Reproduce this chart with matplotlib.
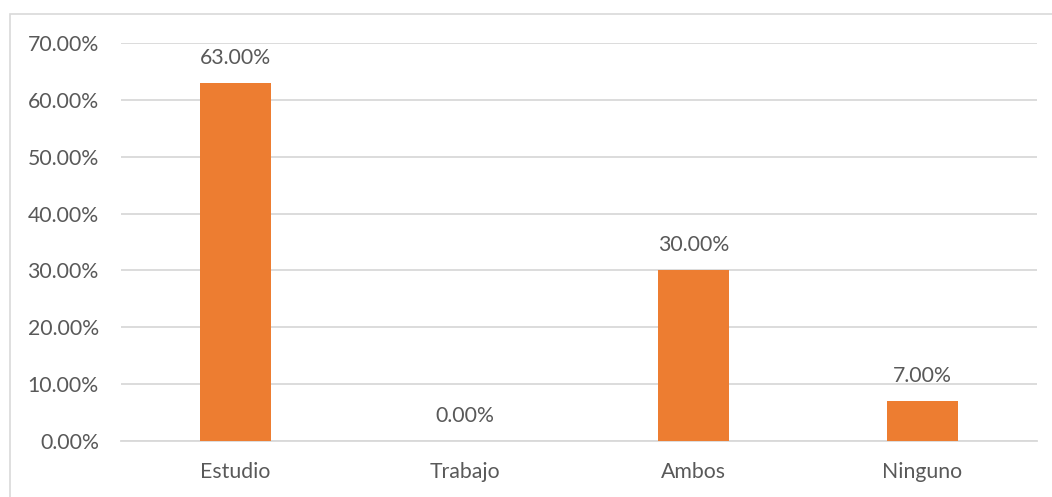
import matplotlib.pyplot as plt
from matplotlib.patches import Rectangle
import numpy as np

categories = ['Estudio', 'Trabajo', 'Ambos', 'Ninguno']
values = [63.0, 0.0, 30.0, 7.0]
yticks = [0, 10, 20, 30, 40, 50, 60, 70]

plt.rcParams['font.family'] = ['Lato', 'DejaVu Sans']
txt = '#595959'
grid = '#d9d9d9'
fs = 15.3

fig = plt.figure(figsize=(10.52, 4.97), dpi=100)
ax = fig.add_axes([121/1052, 1-441/497, (1037-121)/1052, (441-43)/497])

# outer chart border
fig.patches.append(Rectangle((10/1052, -0.05), 1.1, 1-14/497+0.05, transform=fig.transFigure,
                             fill=False, edgecolor=grid, linewidth=1.2))

x = np.arange(len(categories))
ax.bar(x, values, width=0.313, color='#ED7D31', zorder=3)
for xi, v in zip(x, values):
    ax.annotate('%.2f%%' % v, (xi, v), xytext=(0, 18), textcoords='offset points',
                ha='center', va='center', fontsize=fs, color=txt)

ax.set_xlim(-0.5, len(categories) - 0.5)
ax.set_ylim(0, 70)
ax.set_yticks(yticks)
ax.set_yticklabels(['%.2f%%' % t for t in yticks])
ax.set_xticks(x)
ax.set_xticklabels(categories)
ax.yaxis.grid(True, color=grid, linewidth=1.3, zorder=0)
ax.tick_params(axis='y', length=0, pad=16, labelsize=fs, labelcolor=txt)
ax.tick_params(axis='x', length=0, pad=15, labelsize=fs, labelcolor=txt)
for s in ['top', 'right', 'left']:
    ax.spines[s].set_visible(False)
ax.spines['bottom'].set_color(grid)
ax.spines['bottom'].set_linewidth(1.3)

fig.savefig('out.png', dpi=100)
